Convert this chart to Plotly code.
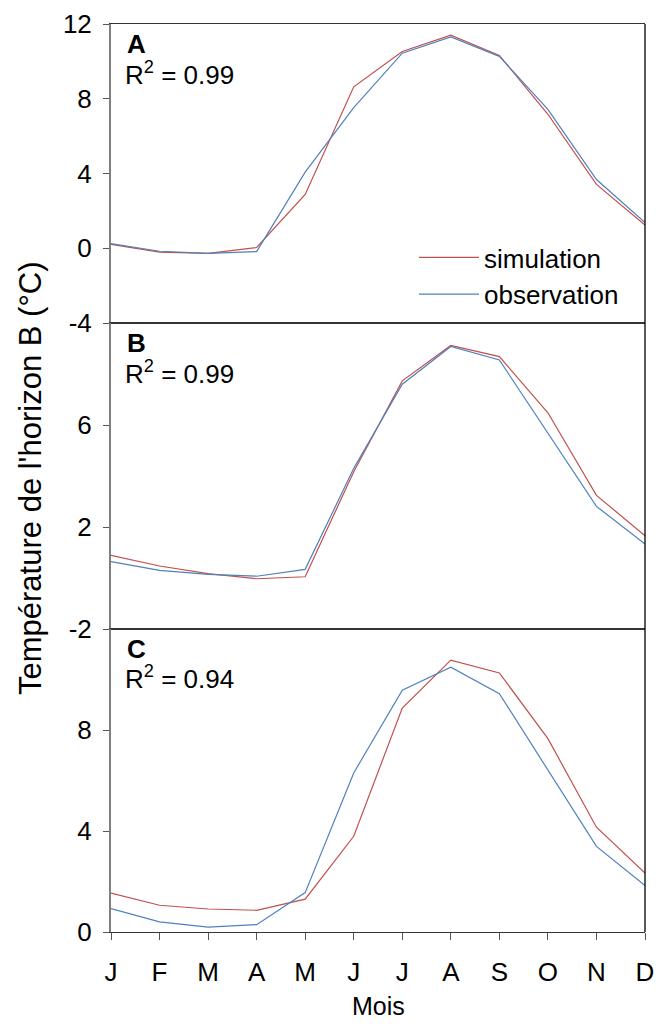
import plotly.graph_objects as go

months = ["J", "F", "M", "A", "M", "J", "J", "A", "S", "O", "N", "D"]
x_idx = list(range(len(months)))

sim_A = [0.21, -0.21, -0.27, 0.04, 2.88, 8.64, 10.53, 11.40, 10.32, 7.17, 3.42, 1.24]
obs_A = [0.25, -0.16, -0.27, -0.18, 4.07, 7.52, 10.44, 11.31, 10.27, 7.43, 3.68, 1.38]
sim_B = [0.89, 0.47, 0.17, -0.03, 0.05, 4.17, 7.73, 9.12, 8.68, 6.48, 3.24, 1.66]
obs_B = [0.64, 0.30, 0.14, 0.07, 0.34, 4.30, 7.60, 9.08, 8.55, 5.68, 2.81, 1.33]
sim_C = [1.54, 1.06, 0.91, 0.86, 1.30, 3.79, 8.87, 10.77, 10.26, 7.66, 4.15, 2.33]
obs_C = [0.93, 0.40, 0.19, 0.29, 1.56, 6.30, 9.58, 10.49, 9.44, 6.40, 3.39, 1.84]

panels = ["A", "B", "C"]
r2 = ["0.99", "0.99", "0.94"]
yticks_A = [-4, 0, 4, 8, 12]
yticks_B = [-2, 2, 6]
yticks_C = [0, 4, 8]

RED = "#C0504D"
BLUE = "#4F81BD"
FONT = "Liberation Sans, Arial, sans-serif"

W, H = 656, 1029
L, R, T, B = 111, 11, 24, 97
plot_h = H - T - B
plot_w = W - L - R
# panel pixel boundaries (top to bottom)
bounds = [24, 323, 629, 932]


def py(pix):
    return (H - B - pix) / plot_h


def px(pix):
    return (pix - L) / plot_w


fig = go.Figure()
sims = [sim_A, sim_B, sim_C]
obss = [obs_A, obs_B, obs_C]
for i in range(3):
    sfx = "" if i == 0 else str(i + 1)
    fig.add_trace(go.Scatter(x=x_idx, y=sims[i], mode="lines", name="simulation",
                             line=dict(color=RED, width=1.2), xaxis="x" + sfx, yaxis="y" + sfx,
                             showlegend=(i == 0)))
    fig.add_trace(go.Scatter(x=x_idx, y=obss[i], mode="lines", name="observation",
                             line=dict(color=BLUE, width=1.2), xaxis="x" + sfx, yaxis="y" + sfx,
                             showlegend=(i == 0)))

ranges = [[-4, 12], [-2, 10], [0, 12]]
ticks = [yticks_A, yticks_B, yticks_C]
layout = dict(
    width=W, height=H,
    margin=dict(l=L, r=R, t=T, b=B, autoexpand=False),
    paper_bgcolor="white", plot_bgcolor="white",
    font=dict(family=FONT, size=26, color="black"),
    legend=dict(x=px(414), y=py(234), xanchor="left", yanchor="top",
                bgcolor="rgba(0,0,0,0)", font=dict(size=26), tracegroupgap=0,
                itemwidth=60),
    shapes=[], annotations=[],
)
for i in range(3):
    sfx = "" if i == 0 else str(i + 1)
    top, bot = bounds[i], bounds[i + 1]
    dom = [py(bot), py(top)]
    last = (i == 2)
    layout["xaxis" + sfx] = dict(
        domain=[0, 1], anchor="y" + sfx, range=[0, 11],
        tickvals=x_idx, ticktext=months, automargin=False,
        showticklabels=last, ticks="outside" if last else "",
        ticklen=7, tickcolor="#555555", tickwidth=1,
        showline=True, linecolor="#333333", linewidth=1.3, mirror=True,
        showgrid=False, zeroline=False,
        tickfont=dict(size=26), ticklabelstandoff=10,
    )
    layout["yaxis" + sfx] = dict(
        domain=dom, anchor="x" + sfx, range=ranges[i], tickvals=ticks[i],
        ticktext=[str(v) for v in ticks[i]], automargin=False,
        ticks="outside", ticklen=6, tickcolor="#555555", tickwidth=1,
        showline=True, linecolor="#7f7f7f", linewidth=2,
        showgrid=False, zeroline=False, tickfont=dict(size=26),
        ticklabelstandoff=6,
    )
    layout["annotations"].append(dict(
        text="<b>%s</b>" % panels[i], xref="paper", yref="paper",
        x=px(125), y=py(top + 20), xanchor="left", yanchor="middle",
        showarrow=False, font=dict(size=26)))
    layout["annotations"].append(dict(
        text="R<sup>2</sup> = %s" % r2[i], xref="paper", yref="paper",
        x=px(123), y=py(top + 49), xanchor="left", yanchor="middle",
        showarrow=False, font=dict(size=26)))

# right border
layout["shapes"].append(dict(type="line", xref="paper", yref="paper",
                             x0=1, x1=1, y0=0, y1=1, line=dict(color="black", width=1.3)))

layout["annotations"].append(dict(
    text="Température de l'horizon B (°C)", xref="paper", yref="paper",
    x=px(30), y=py(478), xanchor="center", yanchor="middle", textangle=-90,
    showarrow=False, font=dict(size=31)))
layout["annotations"].append(dict(
    text="Mois", xref="paper", yref="paper",
    x=px(378), y=py(1006), xanchor="center", yanchor="middle",
    showarrow=False, font=dict(size=25)))

fig.update_layout(**layout)
fig.write_html("out.html", config={"displayModeBar": False},
               post_script="document.body.style.margin='0';document.body.style.overflow='hidden';")
